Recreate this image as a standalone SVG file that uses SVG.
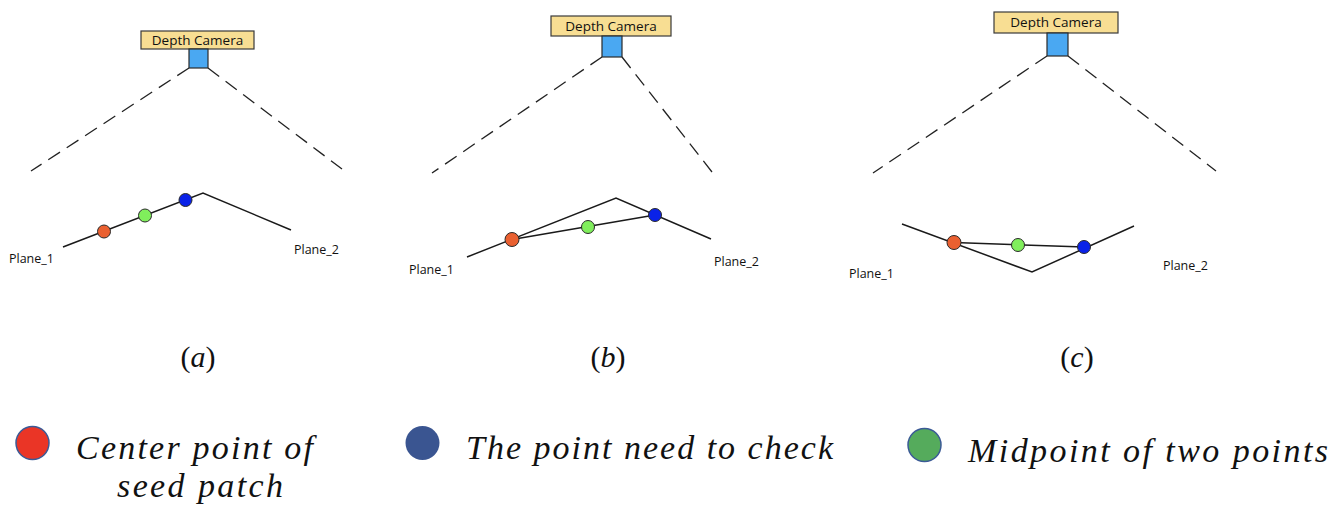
<svg xmlns="http://www.w3.org/2000/svg" width="1333" height="507" viewBox="0 0 1333 507">
  <style>
    .cam-label { fill: #F8DE93; stroke: #3a3a3a; stroke-width: 1.2; }
    .cam-body { fill: #4AA8F2; stroke: #2a2a2a; stroke-width: 1.2; }
    .cam-text { font-family: "Open Sans", "Liberation Sans", sans-serif; font-size: 13.5px; fill: #111; text-anchor: middle; }
    .fov { stroke: #222; stroke-width: 1.3; stroke-dasharray: 14 8; fill: none; }
    .plane { stroke: #1a1a1a; stroke-width: 1.5; fill: none; }
    .plane-text { font-family: "Open Sans", "Liberation Sans", sans-serif; font-size: 12.5px; fill: #111; }
    .pt { stroke: #2a2a2a; stroke-width: 1; }
    .seed { fill: #EA6030; }
    .mid { fill: #80EE5C; }
    .chk { fill: #0A22E8; }
    .caption { font-family: "Liberation Serif", "DejaVu Serif", serif; font-size: 30px; fill: #111; text-anchor: middle; }
    .caption .v { font-style: italic; }
    .legend { font-family: "Liberation Serif", "DejaVu Serif", serif; font-style: italic; font-size: 34px; fill: #111; }
  </style>

  <!-- Panel (a): both points on the same plane -->
  <g id="panel-a">
    <g id="camera-a">
      <rect class="cam-label" x="141" y="31" width="113" height="18"/>
      <text class="cam-text" x="197.5" y="45">Depth Camera</text>
      <rect class="cam-body" x="189" y="49" width="19" height="19"/>
    </g>
    <g id="connectors-a">
      <line class="fov" x1="189" y1="68" x2="31" y2="171"/>
      <line class="fov" x1="208" y1="68" x2="342" y2="169"/>
      <polyline class="plane" points="63,247 203,193 291,230"/>
    </g>
    <g id="points-a">
      <circle class="pt seed" cx="104" cy="231.5" r="6.5"/>
      <circle class="pt mid" cx="145" cy="215.5" r="6.5"/>
      <circle class="pt chk" cx="185.5" cy="200" r="6.5"/>
    </g>
    <text class="plane-text" x="9" y="263">Plane_1</text>
    <text class="plane-text" x="294" y="254">Plane_2</text>
    <text class="caption" x="198" y="367">(<tspan class="v">a</tspan>)</text>
  </g>

  <!-- Panel (b): convex corner, chord passes below the planes -->
  <g id="panel-b">
    <g id="camera-b">
      <rect class="cam-label" x="551" y="16" width="120" height="20"/>
      <text class="cam-text" x="611" y="31">Depth Camera</text>
      <rect class="cam-body" x="602" y="36" width="20" height="21"/>
    </g>
    <g id="connectors-b">
      <line class="fov" x1="602" y1="57" x2="432" y2="173"/>
      <line class="fov" x1="622" y1="57" x2="712" y2="172"/>
      <polyline class="plane" points="467,257 616,198 711,239"/>
      <line class="plane" x1="512" y1="239.5" x2="655" y2="215"/>
    </g>
    <g id="points-b">
      <circle class="pt seed" cx="512" cy="239.5" r="7"/>
      <circle class="pt mid" cx="588" cy="227" r="6.5"/>
      <circle class="pt chk" cx="655" cy="215" r="6.5"/>
    </g>
    <text class="plane-text" x="409" y="274">Plane_1</text>
    <text class="plane-text" x="714" y="266">Plane_2</text>
    <text class="caption" x="608" y="367">(<tspan class="v">b</tspan>)</text>
  </g>

  <!-- Panel (c): concave corner, chord passes above the planes -->
  <g id="panel-c">
    <g id="camera-c">
      <rect class="cam-label" x="994" y="12" width="124" height="21"/>
      <text class="cam-text" x="1056" y="27">Depth Camera</text>
      <rect class="cam-body" x="1047" y="33" width="21" height="23"/>
    </g>
    <g id="connectors-c">
      <line class="fov" x1="1047" y1="56" x2="873" y2="173"/>
      <line class="fov" x1="1068" y1="56" x2="1216" y2="171"/>
      <polyline class="plane" points="902,224 1032,272 1134,226"/>
      <line class="plane" x1="954" y1="242.5" x2="1084" y2="247"/>
    </g>
    <g id="points-c">
      <circle class="pt seed" cx="954" cy="242.5" r="7"/>
      <circle class="pt mid" cx="1018" cy="245" r="6.5"/>
      <circle class="pt chk" cx="1084" cy="247" r="6.5"/>
    </g>
    <text class="plane-text" x="849" y="278">Plane_1</text>
    <text class="plane-text" x="1163" y="270">Plane_2</text>
    <text class="caption" x="1077" y="367">(<tspan class="v">c</tspan>)</text>
  </g>

  <!-- Legend -->
  <g id="legend-seed">
    <circle cx="32.5" cy="443" r="16.5" fill="#EA3526" stroke="#3B5A96" stroke-width="1.5"/>
    <text class="legend" x="76" y="459" textLength="237" lengthAdjust="spacing">Center point of</text>
    <text class="legend" x="117" y="497" textLength="166" lengthAdjust="spacing">seed patch</text>
  </g>
  <g id="legend-check">
    <circle cx="422.5" cy="443" r="17" fill="#3A5591"/>
    <text class="legend" x="466" y="459" textLength="367" lengthAdjust="spacing">The point need to check</text>
  </g>
  <g id="legend-mid">
    <circle cx="924.5" cy="445" r="16.5" fill="#55AB5C" stroke="#3B5A96" stroke-width="1.5"/>
    <text class="legend" x="968" y="462" textLength="360" lengthAdjust="spacing">Midpoint of two points</text>
  </g>
</svg>
